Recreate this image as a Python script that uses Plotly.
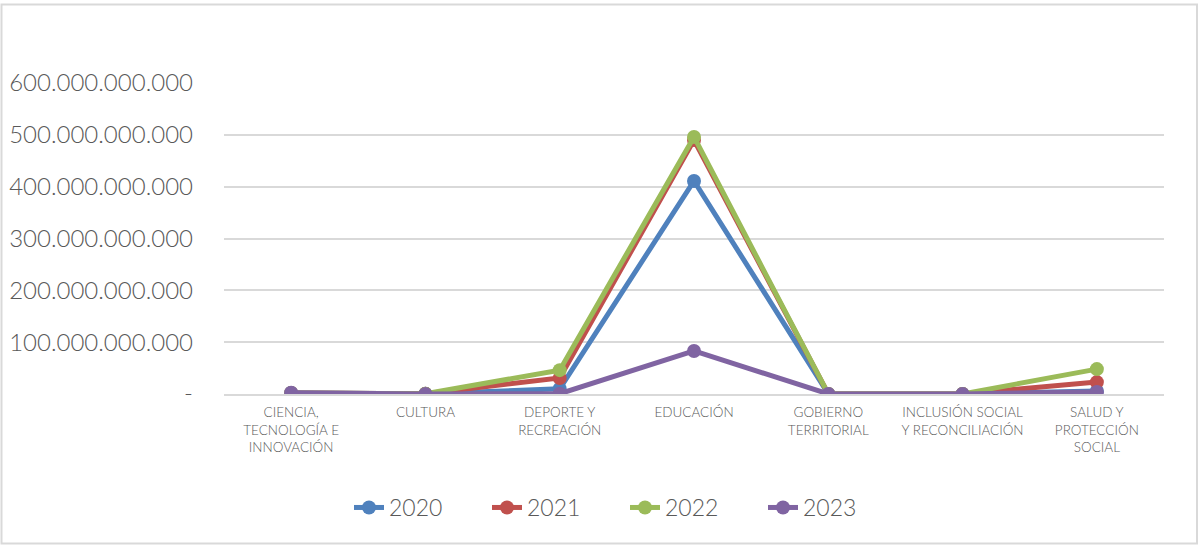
import plotly.graph_objects as go

categories = ["CIENCIA,<br>TECNOLOGÍA E<br>INNOVACIÓN", "CULTURA", "DEPORTE Y<br>RECREACIÓN",
              "EDUCACIÓN", "GOBIERNO<br>TERRITORIAL", "INCLUSIÓN SOCIAL<br>Y RECONCILIACIÓN",
              "SALUD Y<br>PROTECCIÓN<br>SOCIAL"]
v2020 = [2e9, 0.3e9, 10e9, 411e9, 0.2e9, 0.2e9, 6e9]
v2021 = [2e9, 0.3e9, 31e9, 490e9, 0.2e9, 0.2e9, 23e9]
v2022 = [2e9, 0.5e9, 46e9, 496e9, 0.2e9, 0.2e9, 48e9]
v2023 = [2.5e9, 0.2e9, 0.5e9, 83e9, 0.2e9, 0.2e9, 4e9]

tick_vals = [0, 100e9, 200e9, 300e9, 400e9, 500e9, 600e9]
tick_text = ["-", "100.000.000.000", "200.000.000.000", "300.000.000.000",
             "400.000.000.000", "500.000.000.000", "600.000.000.000"]

series = [("2020", v2020, "#4F81BD"), ("2021", v2021, "#C0504D"),
          ("2022", v2022, "#9BBB59"), ("2023", v2023, "#8064A2")]

fig = go.Figure()
for name, vals, color in series:
    fig.add_trace(go.Scatter(x=categories, y=vals, name=name, mode="lines+markers",
                             line=dict(color=color, width=5),
                             marker=dict(color=color, size=14)))

fig.update_layout(
    width=1200, height=546,
    paper_bgcolor="white", plot_bgcolor="white",
    margin=dict(l=224, r=36, t=83, b=152, autoexpand=False),
    font=dict(family="Lato", color="#595959"),
    xaxis=dict(showgrid=False, tickfont=dict(size=13.5, color="#595959", weight=300),
               showline=True, linecolor="#D9D9D9", linewidth=1.5,
               ticks="", range=[-0.5, 6.5], automargin=False, ticklabelstandoff=5),
    yaxis=dict(range=[0, 600e9], tickvals=tick_vals, ticktext=tick_text,
               gridcolor="#D9D9D9", gridwidth=1.5, zeroline=False,
               tickfont=dict(size=24, color="#595959", weight=300), ticklen=0,
               ticklabelstandoff=30, automargin=False),
    legend=dict(orientation="h", x=(349 - 224) / 940, xanchor="left", y=-0.365, yanchor="middle",
                font=dict(size=23, color="#595959", weight=300), entrywidth=93,
                entrywidthmode="pixels"),
    shapes=[dict(type="rect", xref="paper", yref="paper",
                 x0=-222.5/940, x1=1 + 33/940, y0=-149.5/311, y1=1 + 78.5/311,
                 line=dict(color="#D9D9D9", width=2))],
)

fig.write_html("out.html", post_script="document.body.style.margin='0';",
               config={"displayModeBar": False})
